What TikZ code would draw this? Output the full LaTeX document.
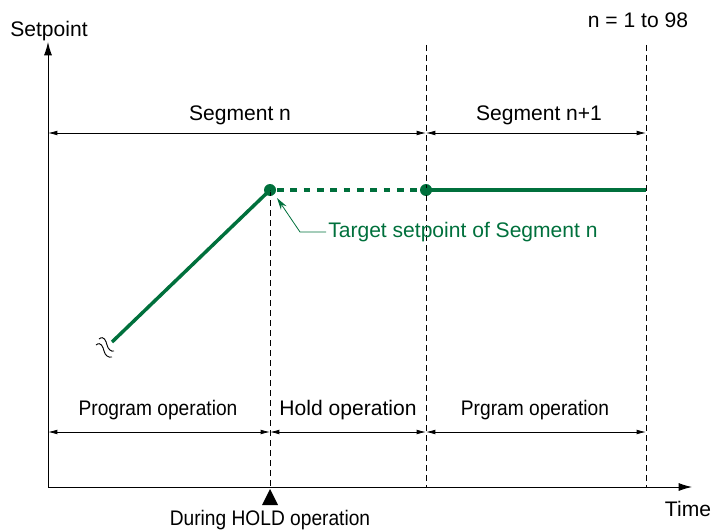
\documentclass[tikz,border=0pt]{standalone}
\usepackage{fontspec}
\setmainfont{Liberation Sans}
\usetikzlibrary{arrows.meta}
\definecolor{sgreen}{RGB}{0,112,60}
\newcommand{\narrowtxt}[1]{\scalebox{0.91}[1]{#1}}
\begin{document}
\begin{tikzpicture}[x=0.75pt,y=-0.75pt,
  lbl/.style={font=\fontsize{15.8}{18}\selectfont, inner sep=0pt},
  dim/.style={line width=0.6pt, {Latex[length=7pt,width=3.5pt]}-{Latex[length=7pt,width=3.5pt]}},
  vdash/.style={line width=0.6pt, dash pattern=on 4.5pt off 3pt},
  gline/.style={sgreen, line width=2.6pt},
  gdot/.style={circle, fill=sgreen, inner sep=0pt, minimum size=9pt}]
\useasboundingbox (0,0) rectangle (712,531);
% axes
\coordinate (O) at (48,487);
\coordinate (Ytop) at (48,42);
\coordinate (Xend) at (692,487);
\draw[line width=0.7pt, -{Latex[length=10pt,width=6pt]}] (O) -- (Ytop);
\draw[line width=0.7pt, -{Latex[length=10pt,width=6pt]}] (O) -- (Xend);
\node[lbl] (sp) at (49,31) {Setpoint};
\node[lbl] (time) at (688,509) {Time};
\node[lbl] (nn) at (638,20) {n = 1 to 98};
% points
\node[gdot] (P1) at (270,190) {};
\node[gdot] (P2) at (426,190) {};
\coordinate (S) at (112,342);
\coordinate (E) at (646,190);
% dashed verticals
\coordinate (V1b) at (270,487);
\coordinate (V2t) at (426,45);
\coordinate (V2b) at (426,487);
\coordinate (V3t) at (646,45);
\coordinate (V3b) at (646,487);
\draw[vdash] (P1.center) -- (V1b);
\draw[vdash] (V2t) -- (V2b);
\draw[vdash] (V3t) -- (V3b);
% green lines
\draw[gline] (S) -- (P1.center);
\draw[sgreen, line width=2.6pt, dash pattern=on 5pt off 5pt] (P1.center) ++(7,0) -- (P2.center);
\draw[gline] (P2.center) -- (E);
% wavy break
\draw[line width=0.7pt] (99,339) .. controls (104,335) and (106,341) .. (107,345) .. controls (108,349) and (111,352) .. (114,351);
\draw[line width=0.7pt] (96,345) .. controls (101,341) and (103,347) .. (104,351) .. controls (105,355) and (108,358) .. (112,357);
% segment dims
\coordinate (A1) at (48,133);
\coordinate (A2) at (426,133);
\coordinate (A3) at (646,133);
\draw[dim] (A1) -- (A2);
\draw[dim] (A2) -- (A3);
\node[lbl] (segn) at (240,115) {Segment n};
\node[lbl] (segn1) at (539,115) {Segment n+1};
% operation dims
\coordinate (B1) at (48,432);
\coordinate (B2) at (270,432);
\coordinate (B3) at (426,432);
\coordinate (B4) at (646,432);
\draw[dim] (B1) -- (B2);
\draw[dim] (B2) -- (B3);
\draw[dim] (B3) -- (B4);
\node[lbl] (po) at (158,410) {\narrowtxt{Program operation}};
\node[lbl] (ho) at (348,410) {Hold operation};
\node[lbl] (pg) at (535,410) {\narrowtxt{Prgram operation}};
% target label
\node[lbl, anchor=west, text=sgreen] (tgt) at (328,232) {Target setpoint of Segment n};
\coordinate (K) at (300,232);
\coordinate (T) at (277,198);
\draw[sgreen, line width=0.6pt, -{Stealth[length=9pt,width=5pt]}] (tgt.west) ++(-2,0) -- (K) -- (T);
% triangle marker
\fill (270,489) -- (278,505) -- (262,505) -- cycle;
\node[lbl] (hold) at (270,520) {\narrowtxt{During HOLD operation}};
\end{tikzpicture}
\end{document}
